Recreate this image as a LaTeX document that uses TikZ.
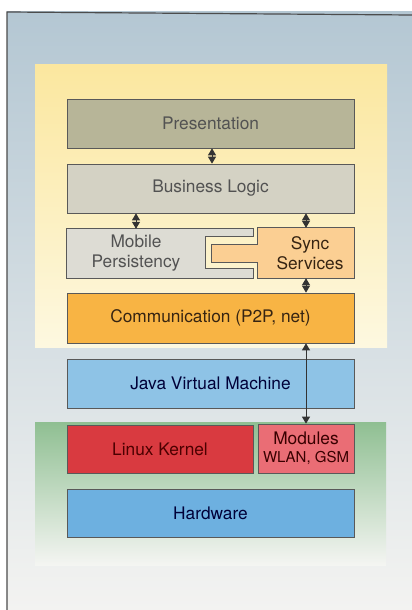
\documentclass[tikz,border=0pt]{standalone}
\usepackage{fontspec}
\setmainfont{TeX Gyre Heros}
\usetikzlibrary{arrows.meta}

\definecolor{bgtop}{HTML}{B4C7D3}
\definecolor{bgmid}{HTML}{D9E1E5}
\definecolor{bgbot}{HTML}{F3F3F1}
\definecolor{yeltop}{HTML}{FBE79F}
\definecolor{yelbot}{HTML}{FDF8E0}
\definecolor{grntop}{HTML}{8FBF92}
\definecolor{grnmid}{HTML}{D6E7D4}
\definecolor{grnbot}{HTML}{F4F5F2}
\definecolor{presfill}{HTML}{B7B598}
\definecolor{busfill}{HTML}{D4D2C4}
\definecolor{mobfill}{HTML}{DDDCD4}
\definecolor{syncfill}{HTML}{FBCF93}
\definecolor{commfill}{HTML}{F8B444}
\definecolor{jvmfill}{HTML}{8EC3E6}
\definecolor{linfill}{HTML}{D93A40}
\definecolor{modfill}{HTML}{EA6D75}
\definecolor{hwfill}{HTML}{6DB0E0}

\begin{document}
\begin{tikzpicture}[x=1pt, y=-1pt,
    layer/.style={draw=black!65, line width=0.7pt, minimum width=287pt, minimum height=49pt,
        inner sep=0pt, align=center, text=black!68, font=\fontsize{17.3}{20}\selectfont},
    txt/.style={inner sep=0pt, align=center, text=black!68, font=\fontsize{17.3}{20}\selectfont},
    link/.style={{Triangle[length=7pt,width=8pt]}-{Triangle[length=7pt,width=8pt]},
        line width=1pt, draw=black!80}]
    \useasboundingbox (0,0) rectangle (412,610);

    % backgrounds
    \shade[top color=bgtop, middle color=bgmid, bottom color=bgbot] (7,12) rectangle (412,610);
    \draw[black!70, line width=1.2pt] (7,610) -- (7,12) -- (412,15);
    \shade[top color=yeltop, bottom color=yelbot] (35,65) rectangle (387,347);
    \shade[top color=grntop, middle color=grnmid, bottom color=grnbot] (35,422) rectangle (386,565);

    % layers
    \node[layer, fill=presfill] (pres) at (210.5,123.5) {Presentation};
    \node[layer, fill=busfill] (bus) at (210.5,188.5) {Business Logic};
    \node[inner sep=0pt, minimum width=186pt, minimum height=49pt] (mob) at (160,253.5) {};
    \node[inner sep=0pt, minimum width=96pt, minimum height=50pt] (sync) at (306,253) {};
    \filldraw[fill=mobfill, draw=black!65, line width=0.7pt] (mob.north west) -- (mob.north east)
        -- ++(0,8) -- ++(-48,0) -- ++(0,32) -- ++(48,0) -- (mob.south east) -- (mob.south west) -- cycle;
    \filldraw[fill=syncfill, draw=black!65, line width=0.7pt] (sync.north west) -- (sync.north east)
        -- (sync.south east) -- (sync.south west) -- ++(0,-16) -- ++(-46,0) -- ++(0,-18) -- ++(46,0) -- cycle;
    \node[txt] (moblabel) at (136,253) {Mobile\\Persistency};
    \node[txt, text=black!72!brown] (synclabel) at (310,253) {Sync\\Services};
    \node[layer, fill=commfill, minimum height=50pt, text=black!72!brown] (comm) at (210.5,318) {Communication (P2P, net)};
    \node[layer, fill=jvmfill, text=black!78!blue] (jvm) at (210.5,383.5) {Java Virtual Machine};
    \node[layer, fill=linfill, minimum width=186pt, minimum height=48pt, text=black!70!red] (linux) at (160,449) {Linux Kernel};
    \node[layer, fill=modfill, minimum width=96pt, text=black!78!red] (mods) at (306,448.5)
        {Modules\\[-2pt]{\fontsize{15}{18}\selectfont WLAN, GSM}};
    \node[layer, fill=hwfill, minimum height=48pt, text=black!78!blue] (hw) at (210.5,513) {Hardware};

    % links
    \draw[link] ([xshift=1.5pt]pres.south) -- ([xshift=1.5pt]bus.north);
    \draw[link] (bus.south -| moblabel) -- (moblabel |- mob.north);
    \draw[link] (bus.south -| sync) -- (sync.north);
    \draw[link] (sync.south) -- (comm.north -| sync);
    \draw[link] (comm.south -| mods) -- (mods.north);
\end{tikzpicture}
\end{document}
